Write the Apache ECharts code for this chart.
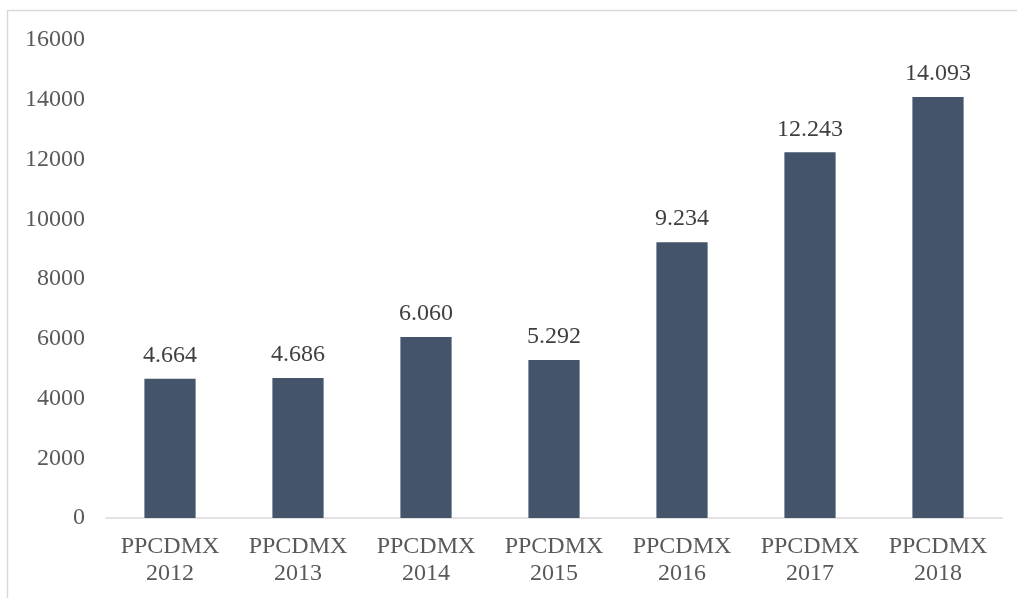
<!DOCTYPE html>
<html>
<head>
<meta charset="utf-8">
<script src="https://cdn.jsdelivr.net/npm/echarts@6/dist/echarts.min.js"></script>
<style>
html,body{margin:0;padding:0;background:#fff;}
#c{width:1017px;height:598px;}
</style>
</head>
<body>
<div id="c"></div>
<script>
const categories = ['PPCDMX\n2012','PPCDMX\n2013','PPCDMX\n2014','PPCDMX\n2015','PPCDMX\n2016','PPCDMX\n2017','PPCDMX\n2018'];
const values = [4664, 4686, 6060, 5292, 9234, 12243, 14093];
const yTicks = { min: 0, max: 16000, interval: 2000 };

function fmt(v){
  return String(v).replace(/\B(?=(\d{3})+(?!\d))/g, '.');
}

const chart = echarts.init(document.getElementById('c'));
const font = '"Liberation Serif", "Times New Roman", serif';
chart.setOption({
  animation: false,
  backgroundColor: '#fff',
  graphic: [{
    type: 'rect',
    shape: { x: 7.5, y: 10.5, width: 1200, height: 800 },
    style: { fill: 'none', stroke: '#D9D9D9', lineWidth: 1.5 },
    silent: true
  }],
  grid: { left: 106, right: 15, top: 40, bottom: 80 },
  xAxis: {
    type: 'category',
    data: categories,
    axisLine: { lineStyle: { color: '#D9D9D9', width: 1.5 } },
    axisTick: { show: false },
    axisLabel: {
      color: '#595959', fontFamily: font, fontSize: 24,
      lineHeight: 27, margin: 15, interval: 0
    }
  },
  yAxis: {
    type: 'value',
    min: yTicks.min, max: yTicks.max, interval: yTicks.interval,
    axisLine: { show: false },
    axisTick: { show: false },
    splitLine: { show: false },
    axisLabel: { color: '#595959', fontFamily: font, fontSize: 24, margin: 21,
      formatter: v => String(v) }
  },
  series: [{
    type: 'bar',
    data: values,
    barWidth: '40%',
    itemStyle: { color: '#44546A' },
    label: {
      show: true, position: 'top', distance: 11,
      color: '#404040', fontFamily: font, fontSize: 24,
      formatter: p => fmt(p.value)
    }
  }]
});
</script>
</body>
</html>
